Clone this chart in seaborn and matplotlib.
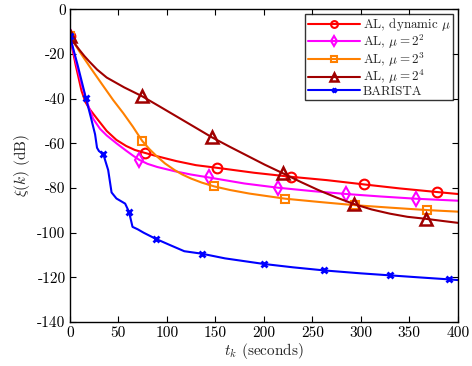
import seaborn as sns
import matplotlib
matplotlib.use("Agg")
import matplotlib.pyplot as plt

# curves (time in seconds, error in dB)
t_dyn = [0, 6, 12, 16, 20, 28, 38, 48, 58, 67, 77.3, 89, 110, 130, 152, 190, 228, 265, 303, 340, 378, 400]
y_dyn = [-12, -25, -36.5, -41.5, -44.5, -49, -54.5, -58.5, -61.2, -63, -64.3, -65.7, -68, -69.8, -71,
         -73.2, -75, -76.5, -78.4, -80.2, -81.8, -82.7]
mk_dyn = [0, 10, 14, 16, 18, 20]

t_mu4 = [0, 6, 12, 18, 24, 31, 38, 48, 58, 65, 71.5, 80, 90, 108, 125, 143.3, 180, 214.8, 250, 285, 320,
         356.4, 400]
y_mu4 = [-12, -23, -33.5, -42, -49, -53.5, -56.5, -60, -63.3, -65.5, -67.4, -69.2, -70.6, -72.5, -74,
         -75.3, -78, -79.9, -81.4, -82.7, -83.8, -84.8, -85.7]
mk_mu4 = [0, 10, 15, 17, 19, 21]

t_mu8 = [0, 10, 20.6, 33, 44.7, 55, 65, 74.5, 82, 89.3, 98, 108, 116, 125, 136, 148.8, 165, 185, 222, 258,
         293.8, 330, 368.7, 400]
y_mu8 = [-12, -19, -25.8, -33.5, -40.7, -46.5, -52.6, -58.9, -62.6, -65.7, -69, -72, -74, -75.8, -77.6,
         -79.3, -80.9, -82.5, -84.8, -86.3, -87.7, -88.8, -89.9, -90.6]
mk_mu8 = [0, 7, 15, 18, 20, 22]

t_mu16 = [0, 5, 10, 15, 20, 28, 38, 56, 74.2, 92, 110, 128, 146.7, 165, 183, 201, 220, 238, 256, 275, 293,
          311, 330, 348, 367, 385, 400]
y_mu16 = [-12, -15.4, -18.3, -21, -23.4, -27, -30.6, -35, -38.9, -43.4, -48, -52.6, -57.4, -61.6, -65.6,
          -69.6, -73.5, -77.3, -80.9, -84.3, -87.2, -89.6, -91.5, -92.9, -93.8, -94.8, -95.6]
mk_mu16 = [0, 8, 12, 16, 20, 24]

t_bar = [0, 8, 16.5, 22, 26, 28, 30, 34.4, 39.5, 43, 48, 57, 61, 64.6, 70, 76, 88.3, 103, 118, 136, 160,
         200, 230, 262.5, 300, 330, 360, 391, 400]
y_bar = [-12, -25, -39.7, -49, -56, -62, -63.5, -64.8, -72, -82, -84.7, -87, -90.7, -97.4, -98.5, -100,
         -102.7, -105.5, -108.3, -109.4, -111.5, -114, -115.5, -116.9, -118.2, -119.1, -120, -120.9, -121.2]
mk_bar = [0, 2, 7, 12, 16, 19, 21, 23, 25, 27]

series = [
    (t_dyn, y_dyn, mk_dyn, "#FF0000", "o", 7, 1.5, r"AL, dynamic $\mu$"),
    (t_mu4, y_mu4, mk_mu4, "#FF00FF", "d", 7, 1.5, r"AL, $\mu = 2^2$"),
    (t_mu8, y_mu8, mk_mu8, "#FF8000", "s", 6, 1.5, r"AL, $\mu = 2^3$"),
    (t_mu16, y_mu16, mk_mu16, "#A00000", "^", 8, 1.8, r"AL, $\mu = 2^4$"),
    (t_bar, y_bar, mk_bar, "#0000FF", "x", 5, 2.0, "BARISTA"),
]

sns.set_theme(style="ticks")
plt.rcParams["font.family"] = ["cmr10"]
plt.rcParams["mathtext.fontset"] = "cm"
plt.rcParams["axes.unicode_minus"] = False
plt.rcParams["axes.formatter.use_mathtext"] = False

fig = plt.figure(figsize=(4.72, 3.66), dpi=100)
ax = fig.add_axes([0.148, 0.12, 0.822, 0.855])

for t, y, mk, col, m, ms, mew, lab in series:
    sns.lineplot(x=t, y=y, ax=ax, color=col, lw=1.5, marker=m, markersize=ms,
                 markevery=mk, markerfacecolor="none", markeredgecolor=col,
                 markeredgewidth=mew, label=lab, sort=False, estimator=None)

ax.set_xlim(0, 400)
ax.set_ylim(-140, 0)
ax.set_xticks(range(0, 401, 50))
ax.set_yticks(range(-140, 1, 20))
ax.tick_params(direction="in", top=True, right=True, labelsize=11, length=4,
               width=0.8, pad=3, colors="black")
for s in ax.spines.values():
    s.set_linewidth(1.0)
    s.set_color("black")
ax.set_xlabel(r"$t_k$ (seconds)", fontsize=11, labelpad=1)
ax.set_ylabel(r"$\xi(k)$ (dB)", fontsize=11, labelpad=4)

leg = ax.legend(loc="upper right", fontsize=9.4, frameon=True, fancybox=False,
                handlelength=4.0, handletextpad=0.2, borderpad=0.2, labelspacing=-0.05,
                borderaxespad=0.35, markerscale=0.7)
leg.get_frame().set_edgecolor("black")
leg.get_frame().set_linewidth(1.0)

plt.savefig("out.png", dpi=100)
